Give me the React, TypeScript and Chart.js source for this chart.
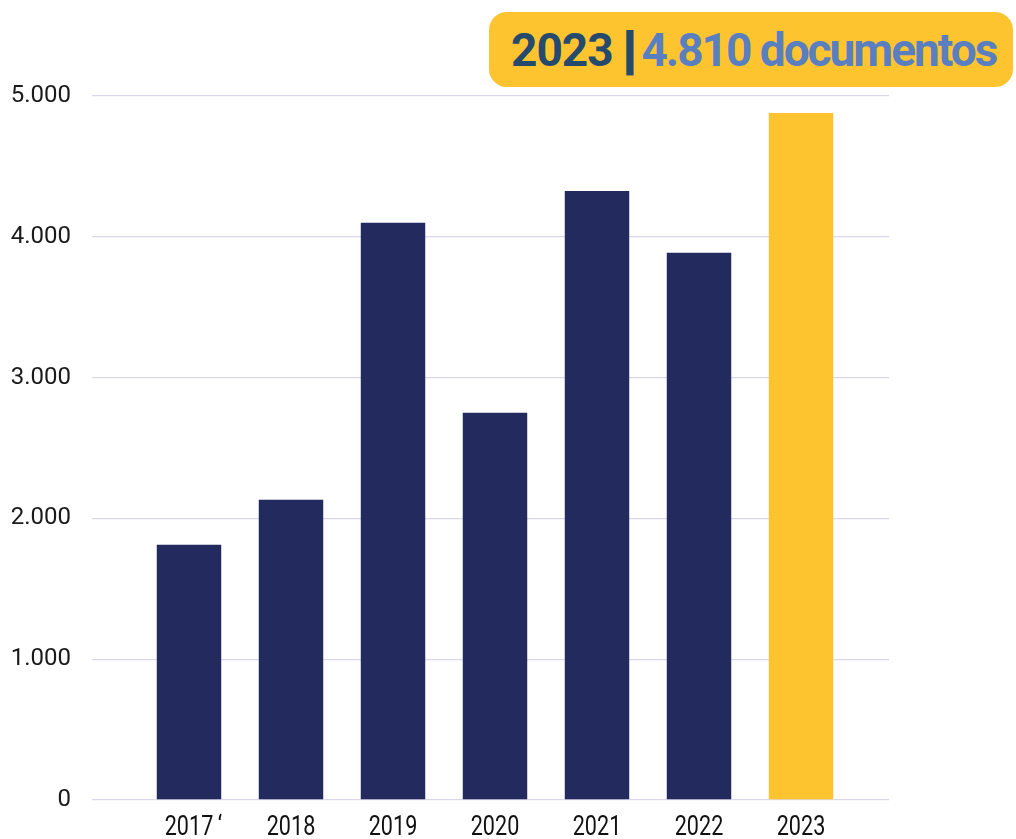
import React, { useEffect, useRef } from "react";
import { Chart, registerables } from "chart.js";

Chart.register(...registerables);

const categories = ["2017\u2009‘", "2018", "2019", "2020", "2021", "2022", "2023"];
const documentos = [1813, 2133, 4099, 2750, 4326, 3886, 4880];
const barColors = ["#232a5e", "#232a5e", "#232a5e", "#232a5e", "#232a5e", "#232a5e", "#fdc42f"];
const yMin = 0;
const yMax = 5000;
const yStep = 1000;
const badgeYear = "2023";
const badgeValue = "4.810 documentos";

const GRID = "#d9d8ea";

// Draws the category labels of the x scale in a condensed face
const xLabelPlugin = {
  id: "xCondensedLabels",
  afterDraw(chart: any) {
    const xs = chart.scales.x;
    const ctx = chart.ctx;
    const labels: string[] = chart.data.labels;
    ctx.save();
    ctx.fillStyle = "#111111";
    ctx.font = "27px Roboto, 'Noto Sans', sans-serif";
    ctx.textAlign = "left";
    ctx.textBaseline = "alphabetic";
    labels.forEach((lab, i) => {
      const x = xs.getPixelForTick(i);
      const core = lab.replace(/\D+$/, "");
      const w = ctx.measureText(core).width;
      ctx.save();
      ctx.translate(x, xs.top + 35);
      ctx.scale(0.8, 1);
      ctx.fillText(lab, -w / 2, 0);
      ctx.restore();
    });
    ctx.restore();
  },
};

export default function App() {
  const ref = useRef<HTMLCanvasElement | null>(null);

  useEffect(() => {
    if (!ref.current) return;
    const chart = new Chart(ref.current, {
      type: "bar",
      data: {
        labels: categories,
        datasets: [
          {
            data: documentos,
            backgroundColor: barColors,
            borderWidth: 0,
            categoryPercentage: 1,
            barPercentage: 0.632,
          },
        ],
      },
      plugins: [xLabelPlugin],
      options: {
        animation: false,
        responsive: false,
        maintainAspectRatio: false,
        layout: { padding: { top: 96, left: 0, right: 127, bottom: 0 } },
        plugins: { legend: { display: false }, tooltip: { enabled: false }, title: { display: false } },
        scales: {
          x: {
            grid: { display: false, drawTicks: false },
            border: { display: false },
            ticks: { display: false },
            afterFit: (s: any) => {
              s.height = 39;
            },
          },
          y: {
            position: "left",
            min: yMin,
            max: yMax,
            border: { display: false },
            grid: { color: GRID, lineWidth: 1.3, drawTicks: true, tickLength: 46 },
            ticks: {
              stepSize: yStep,
              padding: 21,
              color: "#1a1a1a",
              font: { family: "Roboto, 'Noto Sans', sans-serif", size: 24 },
              callback: (v: any) => Number(v).toLocaleString("de-DE"),
            },
            afterFit: (s: any) => {
              s.width = 138;
            },
          },
          y2: {
            position: "right",
            min: yMin,
            max: yMax,
            border: { display: false },
            grid: { color: GRID, lineWidth: 1.3, drawOnChartArea: false, drawTicks: true, tickLength: 37 },
            ticks: { display: false, stepSize: yStep },
            afterFit: (s: any) => {
              s.width = 37;
            },
          },
        },
      },
    });
    return () => chart.destroy();
  }, []);

  return (
    <div style={{ position: "fixed", left: 0, top: 0, width: 1016, height: 839, background: "#ffffff", overflow: "hidden" }}>
      <canvas ref={ref} width={1016} height={839} style={{ position: "absolute", left: 0, top: 0, width: 1016, height: 839 }} />
      <div
        style={{
          position: "absolute",
          left: 489,
          top: 12,
          width: 524,
          height: 75,
          borderRadius: 18,
          background: "#fdc42f",
          display: "flex",
          alignItems: "center",
          paddingLeft: 22,
          boxSizing: "border-box",
          fontFamily: "Roboto, 'Noto Sans', sans-serif",
          fontWeight: 700,
          fontSize: 46,
          whiteSpace: "nowrap",
        }}
      >
        <span style={{ color: "#264a6d", letterSpacing: -1 }}>{badgeYear}</span>
        <span
          style={{
            color: "#264a6d",
            display: "inline-block",
            fontSize: 54,
            fontWeight: 900,
            transform: "scaleX(1.5)",
            margin: "0 5px 0 10px",
          }}
        >
          |
        </span>
        <span style={{ color: "#5a7fc1", letterSpacing: -2 }}>{badgeValue}</span>
      </div>
    </div>
  );
}
